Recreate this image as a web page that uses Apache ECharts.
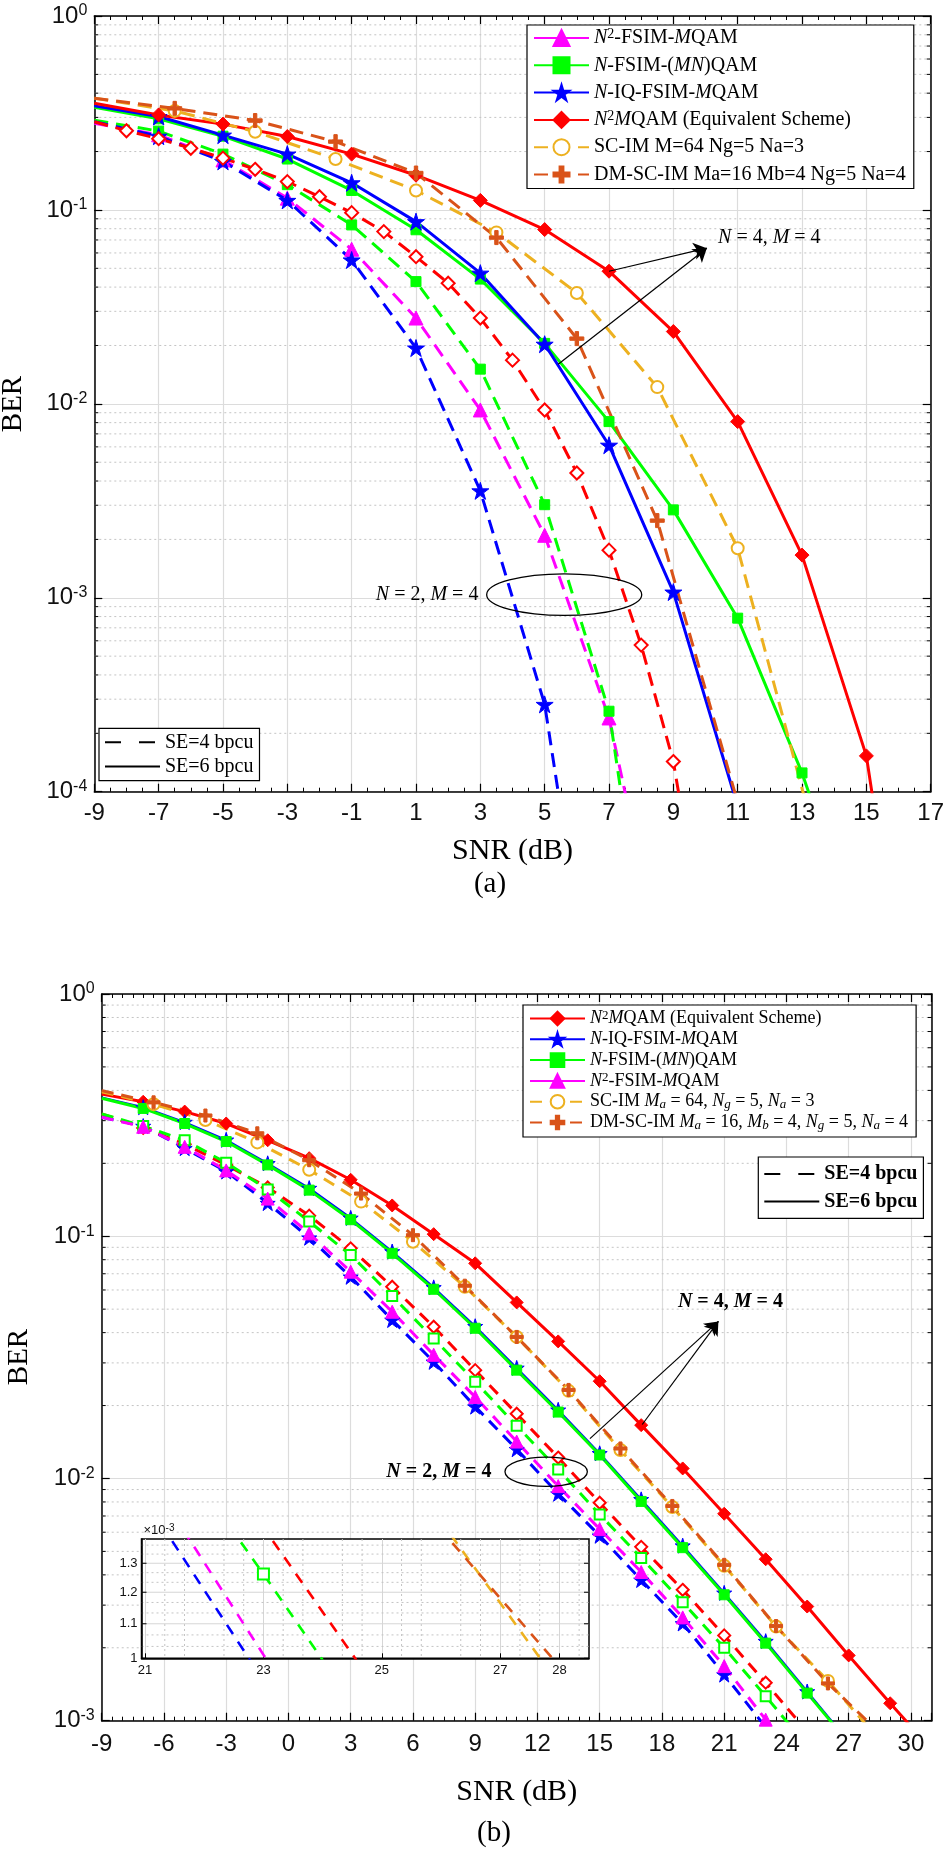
<!DOCTYPE html>
<html>
<head>
<meta charset="utf-8">
<script src="https://cdn.jsdelivr.net/npm/echarts@6.0.0/dist/echarts.min.js"></script>
<style>
html,body{margin:0;padding:0;background:#fff;overflow:hidden}
#ca,#cb{position:absolute;left:0;width:945px;height:926px}
#ca{top:0}
#cb{top:926px}
</style>
</head>
<body>
<div id="ca"></div>
<div id="cb"></div>
<script>
/* ================= DATA : panel (a) ================= */
const aSnrOdd  = [-9,-7,-5,-3,-1,1,3,5,7,9,11,13,15,17];
const aSnrInt  = [-9,-8,-7,-6,-5,-4,-3,-2,-1,0,1,2,3,4,5,6,7,8,9,10];
const aSnrSC   = [-9,-6.5,-4,-1.5,1,3.5,6,8.5,11,13.5];
const aN2MQAM6 = [0.355,0.309,0.277,0.239,0.194,0.151,0.112,0.0792,0.0483,0.0236,0.0081,0.00166,0.000153,0.000001];
const aNIQ6    = [0.344,0.303,0.243,0.194,0.138,0.087,0.0472,0.0203,0.00612,0.00107,0.000084,null,null,null];
const aNFSIM6  = [0.338,0.295,0.24,0.183,0.126,0.079,0.044,0.0205,0.0081,0.00284,0.000785,0.000125,0.0000135,null];
const aN2FSIM4 = [0.28,0.244,0.181,0.115,0.0627,0.0277,0.0093,0.0021,0.00024,0.000007,null,null,null,null];
const aNFSIM4  = [0.29,0.255,0.194,0.135,0.0837,0.0427,0.0151,0.00302,0.00026,0.0000015,null,null,null,null];
const aNIQ4    = [0.285,0.24,0.178,0.112,0.0552,0.0194,0.00356,0.000282,0.000002,null,null,null,null,null];
const aN2MQAM4 = [0.285,0.256,0.233,0.208,0.185,0.162,0.14,0.117,0.0968,0.0773,0.0574,0.0419,0.0277,0.0168,0.0093,0.0044,0.00176,0.00057,0.000143,0.000015];
const aSCIM    = [0.377,0.324,0.253,0.183,0.126,0.0766,0.0373,0.0122,0.0018,0.000051];
const aDMSCIM  = [0.377,0.334,0.289,0.225,0.155,0.072,0.0217,0.0025,0.000088,null];
const aXTicks  = {min:-9, max:17, step:2};
const aYRange  = [1e-4, 1];

/* ================= DATA : panel (b) ================= */
const bSnrOdd  = [-9,-7,-5,-3,-1,1,3,5,7,9,11,13,15,17,19,21,23,25,27,29,31];
const bSnrSC   = [-9,-6.5,-4,-1.5,1,3.5,6,8.5,11,13.5,16,18.5,21,23.5,26,28.5];
const bN2MQAM6 = [0.386,0.359,0.327,0.292,0.249,0.21,0.171,0.134,0.102,0.0773,0.0533,0.0368,0.0252,0.0166,0.011,0.00715,0.00464,0.00296,0.00186,0.00118,0.00076];
const bNIQ6    = [0.374,0.341,0.296,0.25,0.2,0.158,0.119,0.0865,0.0615,0.0425,0.0286,0.0192,0.0127,0.0082,0.00528,0.00337,0.00213,0.00132,0.00082,null,null];
const bNFSIM6  = [0.371,0.337,0.292,0.246,0.197,0.155,0.117,0.085,0.0604,0.0417,0.028,0.0188,0.0125,0.00804,0.00518,0.00331,0.00209,0.0013,0.00081,null,null];
const bN2MQAM4 = [0.32,0.28,0.24,0.197,0.159,0.1216,0.0891,0.0619,0.0423,0.028,0.0185,0.0122,0.00794,0.00522,0.00347,0.00225,0.001435,0.0009,null,null,null];
const bNFSIM4  = [0.32,0.285,0.249,0.201,0.156,0.115,0.0836,0.0566,0.0378,0.0251,0.0165,0.0109,0.0071,0.0047,0.00308,0.002,0.001262,0.000785,null,null,null];
const bN2FSIM4 = [0.31,0.283,0.234,0.187,0.143,0.1028,0.0714,0.0488,0.0324,0.0217,0.0142,0.0093,0.00618,0.00411,0.00267,0.00168,0.00101,0.00062,null,null,null];
const bNIQ4    = [0.31,0.285,0.231,0.185,0.137,0.0986,0.068,0.0451,0.0303,0.0198,0.0132,0.00865,0.0058,0.00381,0.00252,0.00155,0.00094,0.00057,null,null,null];
const bSCIM    = [0.395,0.351,0.302,0.244,0.188,0.139,0.0949,0.0619,0.0384,0.023,0.0131,0.00762,0.00436,0.00245,0.00146,0.00083];
const bDMSCIM  = [0.399,0.357,0.315,0.266,0.206,0.15,0.101,0.0625,0.0384,0.0232,0.0133,0.0077,0.0044,0.00246,0.001425,0.00089];
const bXTicks  = {min:-9, max:31, step:3};
const bYRange  = [1e-3, 1];
const bInsetX  = [20.94, 28.5];
const bInsetXTicks = [21,23,25,27,28];
const bInsetY  = [0.001, 0.00139];
const bInsetYTicks = [0.001,0.0011,0.0012,0.0013];

/* ================= STYLE HELPERS ================= */
const SERIF = 'Liberation Serif', SANS = 'Liberation Sans';
const STAR = 'path://M50,0 L61.23,34.55 L97.55,34.55 L68.16,55.9 L79.39,90.45 L50,69.1 L20.61,90.45 L31.84,55.9 L2.45,34.55 L38.77,34.55 Z';
const PLUS = 'path://M38,0H62V38H100V62H62V100H38V62H0V38H38Z';
const COL = {mag:'#ff00ff', green:'#00ff00', blue:'#0000ff', red:'#ff0000', gold:'#EDB120', brown:'#D95319'};

function toData(xs, ys, xmin, xmax) {
  const out = [];
  for (let i = 0; i < xs.length; i++) {
    if (ys[i] == null) continue;
    const edge = xs[i] <= xmin || xs[i] >= xmax;
    out.push(edge ? {value:[xs[i], ys[i]], symbol:'none'} : [xs[i], ys[i]]);
  }
  return out;
}
function line(o) {
  return {
    type:'line', name:o.name, xAxisIndex:o.xi || 0, yAxisIndex:o.yi || 0,
    data: o.xs ? toData(o.xs, o.ys, o.xmin, o.xmax) : [],
    symbol:o.symbol || 'none', symbolSize:o.size || 10, showAllSymbol:true,
    lineStyle:{color:o.color, width:o.width || 3, type:o.dash || 'solid'},
    itemStyle:{color:o.color, borderColor:o.color, borderWidth:o.bw || 1},
    clip:true, z:o.z || 2, silent:true, animation:false, emphasis:{disabled:true}
  };
}
function richLeg(fs, lh, bold) {
  const w = bold ? 'bold' : 'normal';
  return {
    i:{fontFamily:SERIF, fontStyle:'italic', fontWeight:w, fontSize:fs, lineHeight:lh, color:'#000'},
    sup:{fontFamily:SERIF, fontWeight:w, fontSize:Math.round(fs*0.7), lineHeight:Math.round(fs*0.4), verticalAlign:'top', color:'#000'},
    sub:{fontFamily:SERIF, fontStyle:'italic', fontWeight:w, fontSize:Math.round(fs*0.7), lineHeight:Math.round(fs*0.6), verticalAlign:'bottom', color:'#000'}
  };
}
function xAxes(gi, t, minorSplit, margin) {
  const base = {gridIndex:gi, type:'value', min:t.min, max:t.max, interval:t.step,
    axisLine:{show:true, onZero:false, lineStyle:{color:'#000', width:1.5}},
    axisTick:{show:true, inside:true, length:8, lineStyle:{color:'#000', width:1.2}},
    minorTick:{show:true, splitNumber:minorSplit, length:4, lineStyle:{color:'#000', width:1}}};
  return [
    Object.assign({}, base, {position:'bottom',
      axisLabel:{fontFamily:SANS, fontSize:24, color:'#111', margin:margin, showMaxLabel:true,
        formatter: v => ((v - t.min) % t.step === 0 ? String(v) : '')},
      splitLine:{show:true, lineStyle:{color:'#dcdcdc', width:1.2}}}),
    Object.assign({}, base, {position:'top', axisLabel:{show:false}, splitLine:{show:false}})
  ];
}
function yAxes(gi, r) {
  const base = {gridIndex:gi, type:'log', logBase:10, min:r[0], max:r[1],
    axisLine:{show:true, onZero:false, lineStyle:{color:'#000', width:1.5}},
    axisTick:{show:true, inside:true, length:8, lineStyle:{color:'#000', width:1.2}}};
  return [
    Object.assign({}, base, {position:'left',
      axisLabel:{margin:7, formatter: v => '{b|10}{s|' + Math.round(Math.log10(v)) + '}',
        rich:{b:{fontFamily:SANS, fontSize:24, lineHeight:26, color:'#111'},
              s:{fontFamily:SANS, fontSize:16, lineHeight:8, verticalAlign:'top', color:'#111'}}},
      splitLine:{show:true, lineStyle:{color:'#dcdcdc', width:1.2}}}),
    Object.assign({}, base, {position:'right', axisLabel:{show:false}, splitLine:{show:false}})
  ];
}
/* horizontal dotted minor grid lines (plus short minor ticks on both y axes), drawn through the axis scale */
function hGrid(vals, xRef, xi, yi, z, tickLen) {
  return {type:'custom', name:'_hgrid', xAxisIndex:xi, yAxisIndex:yi, z:z, silent:true, clip:false, animation:false,
    data: vals.map(v => [xRef, v]),
    renderItem: (params, api) => {
      const cs = params.coordSys;
      const y = api.coord([api.value(0), api.value(1)])[1];
      const kids = [{type:'line', shape:{x1:cs.x, y1:y, x2:cs.x + cs.width, y2:y},
                     style:{stroke:'#c4c4c4', lineDash:[2,3], lineWidth:1}}];
      if (tickLen) {
        kids.push({type:'line', shape:{x1:cs.x, y1:y, x2:cs.x + tickLen, y2:y}, style:{stroke:'#000', lineWidth:1}});
        kids.push({type:'line', shape:{x1:cs.x + cs.width - tickLen, y1:y, x2:cs.x + cs.width, y2:y}, style:{stroke:'#000', lineWidth:1}});
      }
      return {type:'group', children:kids};
    }};
}
function vGrid(vals, yRef, xi, yi, z) {
  return {type:'custom', name:'_vgrid', xAxisIndex:xi, yAxisIndex:yi, z:z, silent:true, clip:false, animation:false,
    data: vals.map(v => [v, yRef]),
    renderItem: (params, api) => {
      const cs = params.coordSys;
      const x = api.coord([api.value(0), api.value(1)])[0];
      return {type:'line', shape:{x1:x, y1:cs.y, x2:x, y2:cs.y + cs.height},
              style:{stroke:'#c4c4c4', lineDash:[2,3], lineWidth:1}};
    }};
}
/* major y gridlines + tick labels for the inset (log axis) */
function insetYLabels(vals, xRef, xi, yi, z) {
  return {type:'custom', name:'_iylab', xAxisIndex:xi, yAxisIndex:yi, z:z, silent:true, clip:false, animation:false,
    data: vals.map(v => [xRef, v]),
    renderItem: (params, api) => {
      const cs = params.coordSys;
      const v = api.value(1);
      const y = api.coord([api.value(0), v])[1];
      const kids = [];
      if (params.dataIndex > 0) kids.push({type:'line', shape:{x1:cs.x, y1:y, x2:cs.x + cs.width, y2:y},
                                           style:{stroke:'#d6d6d6', lineWidth:1}});
      kids.push({type:'line', shape:{x1:cs.x, y1:y, x2:cs.x + 5, y2:y}, style:{stroke:'#000', lineWidth:1}});
      kids.push({type:'line', shape:{x1:cs.x + cs.width - 5, y1:y, x2:cs.x + cs.width, y2:y}, style:{stroke:'#000', lineWidth:1}});
      kids.push({type:'text', x:cs.x - 4, y:y, style:{text:String(+(v * 1000).toFixed(1)), fontFamily:SANS, fontSize:13,
                 fill:'#111', align:'right', verticalAlign:'middle'}});
      return {type:'group', children:kids};
    }};
}
function minorVals(r) {
  const vals = [];
  const e0 = Math.round(Math.log10(r[0])), e1 = Math.round(Math.log10(r[1]));
  for (let e = e0; e < e1; e++) for (let k = 2; k <= 9; k++) vals.push(k * Math.pow(10, e));
  return vals;
}
function arrows(list, xi, yi) {
  return {type:'line', name:'_arrows', xAxisIndex:xi, yAxisIndex:yi, data:[], symbol:'none', silent:true, z:6,
    markLine:{silent:true, symbol:['none','arrow'], symbolSize:13, label:{show:false}, animation:false, z:6,
      lineStyle:{color:'#000', type:'solid', width:1.2}, emphasis:{disabled:true},
      data: list.map(a => [{coord:a[0]}, {coord:a[1]}])}};
}
function seLegend(left, top, fs, bold, pad, gap) {
  return {data:[{name:'SE4', itemStyle:{opacity:0}}, {name:'SE6', itemStyle:{opacity:0}}],
    orient:'vertical', left:left, top:top, itemWidth:55, itemHeight:14, itemGap:gap,
    padding:pad, borderColor:'#000', borderWidth:1.2, backgroundColor:'#fff', selectedMode:false, z:6,
    textStyle:{fontFamily:SERIF, fontSize:fs, fontWeight:bold ? 'bold' : 'normal', lineHeight:fs + 2, color:'#000'},
    formatter: n => (n === 'SE4' ? 'SE=4 bpcu' : 'SE=6 bpcu')};
}
const seSeries = [
  {type:'line', name:'SE4', data:[], symbol:'none', lineStyle:{color:'#000', width:3, type:[16,18]}, itemStyle:{color:'#000', opacity:0}},
  {type:'line', name:'SE6', data:[], symbol:'none', lineStyle:{color:'#000', width:3, type:'solid'}, itemStyle:{color:'#000', opacity:0}}
];

/* ================= PANEL (a) ================= */
const chA = echarts.init(document.getElementById('ca'), null, {renderer:'canvas'});
const dA = [14, 8];
const xa = {xmin:aXTicks.min, xmax:aXTicks.max};
const labelsA = {
  N2FSIM:'{i|N}{sup|2}-FSIM-{i|M}QAM',
  NFSIM:'{i|N}-FSIM-({i|MN})QAM',
  NIQ:'{i|N}-IQ-FSIM-{i|M}QAM',
  N2MQAM:'{i|N}{sup|2}{i|M}QAM (Equivalent Scheme)',
  SCIM:'SC-IM M=64 Ng=5 Na=3',
  DMSCIM:'DM-SC-IM Ma=16 Mb=4 Ng=5 Na=4'
};
chA.setOption({
  animation:false,
  grid:[{left:94.3, right:14.3, top:16, bottom:134.3, outerBoundsMode:'none'}],
  xAxis: xAxes(0, aXTicks, 4, 10),
  yAxis: yAxes(0, aYRange),
  legend:[
    {data:['N2FSIM','NFSIM','NIQ','N2MQAM','SCIM','DMSCIM'], orient:'vertical', left:527, top:25,
     itemWidth:55, itemHeight:20, itemGap:5.3, padding:[2,8,3,6], borderColor:'#000', borderWidth:1.2,
     backgroundColor:'#fff', selectedMode:false, z:6,
     textStyle:{fontFamily:SERIF, fontSize:20, lineHeight:22, color:'#000', rich:richLeg(20,22,false)},
     formatter: n => labelsA[n]},
    seLegend(99, 728.3, 20, false, [3,6,3,5], 2.3)
  ],
  series:[
    hGrid(minorVals(aYRange), aXTicks.min, 0, 0, 1, 4),
    line(Object.assign({name:'N2FSIM_4', xs:aSnrOdd, ys:aN2FSIM4, color:COL.mag, dash:dA, symbol:'triangle', size:14}, xa)),
    line(Object.assign({name:'NFSIM_4', xs:aSnrOdd, ys:aNFSIM4, color:COL.green, dash:dA, symbol:'rect', size:10}, xa)),
    line(Object.assign({name:'NIQ_4', xs:aSnrOdd, ys:aNIQ4, color:COL.blue, dash:dA, symbol:STAR, size:17}, xa)),
    line(Object.assign({name:'N2MQAM_4', xs:aSnrInt, ys:aN2MQAM4, color:COL.red, dash:dA, symbol:'emptyDiamond', size:13, bw:2.5}, xa)),
    line({name:'N2FSIM', color:COL.mag, symbol:'triangle', size:14}),
    line(Object.assign({name:'NFSIM', xs:aSnrOdd, ys:aNFSIM6, color:COL.green, symbol:'rect', size:10}, xa)),
    line(Object.assign({name:'NIQ', xs:aSnrOdd, ys:aNIQ6, color:COL.blue, symbol:STAR, size:17}, xa)),
    line(Object.assign({name:'N2MQAM', xs:aSnrOdd, ys:aN2MQAM6, color:COL.red, symbol:'diamond', size:14}, xa)),
    line(Object.assign({name:'SCIM', xs:aSnrSC, ys:aSCIM, color:COL.gold, dash:dA, symbol:'emptyCircle', size:12, bw:3}, xa)),
    line(Object.assign({name:'DMSCIM', xs:aSnrSC, ys:aDMSCIM, color:COL.brown, dash:dA, symbol:PLUS, size:14}, xa)),
    seSeries[0], seSeries[1],
    arrows([[[7,0.0483],[10.04,0.0635]], [[5.42,0.016],[10.04,0.0635]]], 0, 0)
  ]
});

/* ================= PANEL (b) ================= */
const chB = echarts.init(document.getElementById('cb'), null, {renderer:'canvas'});
const dB = [12, 8];
const dI = [11, 9];
const xb = {xmin:bXTicks.min, xmax:bXTicks.max};
const labelsB = {
  N2MQAM:'{i|N}{sup|2}{i|M}QAM (Equivalent Scheme)',
  NIQ:'{i|N}-IQ-FSIM-{i|M}QAM',
  NFSIM:'{i|N}-FSIM-({i|MN})QAM',
  N2FSIM:'{i|N}{sup|2}-FSIM-{i|M}QAM',
  SCIM:'SC-IM {i|M}{sub|a} = 64, {i|N}{sub|g} = 5, {i|N}{sub|a} = 3',
  DMSCIM:'DM-SC-IM {i|M}{sub|a} = 16, {i|M}{sub|b} = 4, {i|N}{sub|g} = 5, {i|N}{sub|a} = 4'
};
const insetMinorY = [], insetMinorX = [];
for (let k = 1; k < 12; k++) if (k % 3) insetMinorY.push(0.001 * (1 + k / 30));
for (let k = 1; 21 + k / 3 < 28.5; k++) if (k % 3) insetMinorX.push(21 + k / 3);
const bx = xAxes(0, bXTicks, 6, 12);
bx[0].axisLabel.showMaxLabel = false;
const insetX = {gridIndex:1, type:'value', min:bInsetX[0], max:bInsetX[1], z:21,
  axisLine:{show:true, onZero:false, lineStyle:{color:'#000', width:1.5}},
  axisTick:{show:true, inside:true, length:5, customValues:bInsetXTicks, lineStyle:{color:'#000'}},
  axisLabel:{customValues:bInsetXTicks, fontFamily:SANS, fontSize:13, color:'#111', margin:6},
  splitLine:{show:true, lineStyle:{color:'#d6d6d6', width:1}}};
const insetY = {gridIndex:1, type:'log', logBase:10, min:bInsetY[0], max:bInsetY[1], z:21,
  axisLine:{show:true, onZero:false, lineStyle:{color:'#000', width:1.5}},
  axisTick:{show:false}, axisLabel:{show:false}, splitLine:{show:false}};
function insetLine(name, ys, color, symbol, size, bw, xs) {
  return line({name:name, xs:xs || bSnrOdd, ys:ys, color:color, dash:dI, symbol:symbol, size:size, bw:bw, width:2.6,
    xmin:-100, xmax:100, xi:2, yi:2, z:22});
}
chB.setOption({
  animation:false,
  grid:[{left:101.7, right:13.3, top:68, bottom:131.3, outerBoundsMode:'none'},
        {left:141.5, top:613, width:447.5, height:119.3, show:true, backgroundColor:'#fff', borderColor:'#000', borderWidth:1.5, z:20, outerBoundsMode:'none'}],
  xAxis: bx.concat([insetX]),
  yAxis: yAxes(0, bYRange).concat([insetY]),
  legend:[
    {data:['N2MQAM','NIQ','NFSIM','N2FSIM','SCIM','DMSCIM'], orient:'vertical', left:523, top:79,
     itemWidth:55, itemHeight:17, itemGap:1.8, padding:[4,8,5,6], borderColor:'#000', borderWidth:1.2,
     backgroundColor:'#fff', selectedMode:false, z:6,
     textStyle:{fontFamily:SERIF, fontSize:18, lineHeight:19, color:'#000', rich:richLeg(18,19,false)},
     formatter: n => labelsB[n]},
    seLegend(758.3, 231, 20, true, [6,6,6,5], 5.4)
  ],
  series:[
    hGrid(minorVals(bYRange), bXTicks.min, 0, 0, 1, 4),
    line(Object.assign({name:'N2MQAM', xs:bSnrOdd, ys:bN2MQAM6, color:COL.red, symbol:'diamond', size:13}, xb)),
    line(Object.assign({name:'N2MQAM_4', xs:bSnrOdd, ys:bN2MQAM4, color:COL.red, dash:dB, symbol:'emptyDiamond', size:12, bw:2.5}, xb)),
    line(Object.assign({name:'NIQ', xs:bSnrOdd, ys:bNIQ6, color:COL.blue, symbol:STAR, size:15, width:2}, xb)),
    line(Object.assign({name:'NIQ_4', xs:bSnrOdd, ys:bNIQ4, color:COL.blue, dash:dB, symbol:STAR, size:15}, xb)),
    line(Object.assign({name:'NFSIM', xs:bSnrOdd, ys:bNFSIM6, color:COL.green, symbol:'rect', size:10}, xb)),
    line(Object.assign({name:'NFSIM_4', xs:bSnrOdd, ys:bNFSIM4, color:COL.green, dash:dB, symbol:'emptyRect', size:10, bw:2.5}, xb)),
    line(Object.assign({name:'N2FSIM_4', xs:bSnrOdd, ys:bN2FSIM4, color:COL.mag, dash:dB, symbol:'triangle', size:13}, xb)),
    line({name:'N2FSIM', color:COL.mag, symbol:'triangle', size:14}),
    line(Object.assign({name:'SCIM', xs:bSnrSC, ys:bSCIM, color:COL.gold, dash:dB, symbol:'emptyCircle', size:12, bw:3}, xb)),
    line(Object.assign({name:'DMSCIM', xs:bSnrSC, ys:bDMSCIM, color:COL.brown, dash:dB, symbol:PLUS, size:13}, xb)),
    seSeries[0], seSeries[1],
    arrows([[[14.53,0.0146],[20.72,0.0445]], [[17.05,0.0167],[20.72,0.0445]]], 0, 0),
    hGrid(insetMinorY, bInsetX[0], 2, 2, 21, 0),
    vGrid(insetMinorX, bInsetY[0], 2, 2, 21),
    insetYLabels(bInsetYTicks, bInsetX[0], 2, 2, 21),
    insetLine('i_NIQ_4', bNIQ4, COL.blue, 'none', 10, 1),
    insetLine('i_N2FSIM_4', bN2FSIM4, COL.mag, 'none', 10, 1),
    insetLine('i_NFSIM_4', bNFSIM4, COL.green, 'emptyRect', 11, 3),
    insetLine('i_N2MQAM_4', bN2MQAM4, COL.red, 'emptyDiamond', 11, 2.5),
    insetLine('i_SCIM', bSCIM, COL.gold, 'emptyCircle', 10, 2.5, bSnrSC),
    insetLine('i_DMSCIM', bDMSCIM, COL.brown, PLUS, 10, 1, bSnrSC)
  ]
});

/* ================= ANNOTATIONS (positioned via axis scales) ================= */
function mathRich(fs, bold) {
  const w = bold ? 'bold' : 'normal';
  return {i:{fontFamily:SERIF, fontStyle:'italic', fontWeight:w, fontSize:fs, color:'#000'},
          n:{fontFamily:SERIF, fontWeight:w, fontSize:fs, color:'#000'}};
}
function annotate(chart, A) {
  const P = (x, y) => chart.convertToPixel({xAxisIndex:0, yAxisIndex:0}, [x, y]);
  const c = P(A.ell[0], A.ell[1]);
  const ex = P(A.ell[0] + A.ell[2], A.ell[1]);
  const ey = P(A.ell[0], A.ell[1] * Math.pow(10, A.ell[3]));
  const t1 = P(A.t1[0], A.t1[1]);
  const t2 = P(A.t2[0], A.t2[1]);
  const rich = mathRich(20, A.bold);
  const g = [
    {type:'ellipse', shape:{cx:c[0], cy:c[1], rx:Math.abs(ex[0] - c[0]), ry:Math.abs(ey[1] - c[1])},
     style:{fill:'none', stroke:'#000', lineWidth:1.3}, z:100, silent:true},
    {type:'text', x:t1[0], y:t1[1], z:100, silent:true,
     style:{text:'{i|N}{n| = 2, }{i|M}{n| = 4}', rich:rich, align:'right', verticalAlign:'middle'}},
    {type:'text', x:t2[0], y:t2[1], z:100, silent:true,
     style:{text:'{i|N}{n| = 4, }{i|M}{n| = 4}', rich:rich, align:'left', verticalAlign:'middle'}},
    {type:'text', x:A.snr[0], y:A.snr[1], z:100, silent:true,
     style:{text:'SNR (dB)', fontFamily:SERIF, fontSize:30, fill:'#000', align:'center', verticalAlign:'middle'}},
    {type:'text', x:A.ber[0], y:A.ber[1], rotation:Math.PI / 2, z:100, silent:true,
     style:{text:'BER', fontFamily:SERIF, fontSize:29, fill:'#000', align:'center', verticalAlign:'middle'}},
    {type:'text', x:A.cap[0], y:A.cap[1], z:100, silent:true,
     style:{text:A.capText, fontFamily:SERIF, fontSize:29, fill:'#000', align:'center', verticalAlign:'middle'}}
  ];
  if (A.inset) {
    const q = chart.convertToPixel({xAxisIndex:2, yAxisIndex:2}, [bInsetX[0], bInsetY[1]]);
    g.push({type:'text', x:q[0] + 2, y:q[1] - 9, z:100, silent:true,
      style:{text:'×10{s|-3}', fontFamily:SANS, fontSize:13, fill:'#111', align:'left', verticalAlign:'middle',
        rich:{s:{fontFamily:SANS, fontSize:10, lineHeight:6, verticalAlign:'top', fill:'#111'}}}});
  }
  chart.setOption({graphic:g});
}
annotate(chA, {ell:[5.607, 1.038e-3, 2.41, 0.107], t1:[2.94, 1.038e-3], t2:[10.39, 0.0721], bold:false,
  snr:[512.5, 851], ber:[13, 404], cap:[490, 884], capText:'(a)'});
annotate(chB, {ell:[12.42, 0.01066, 1.985, 0.0607], t1:[9.78, 0.01066], t2:[18.77, 0.0537], bold:true,
  snr:[516.7, 866], ber:[19, 431], cap:[494, 907], capText:'(b)', inset:true});
</script>
</body>
</html>
